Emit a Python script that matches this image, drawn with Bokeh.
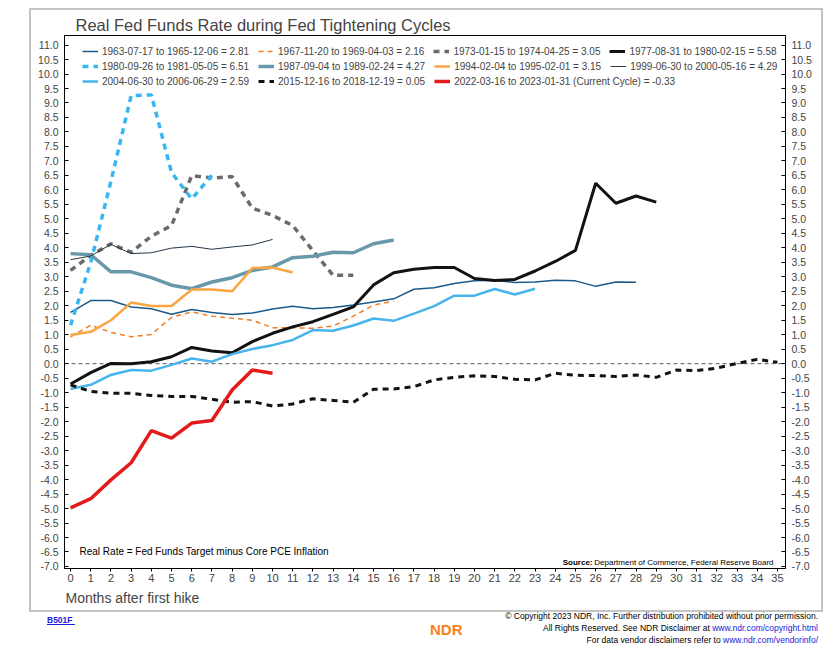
from bokeh.plotting import figure
from bokeh.layouts import column
from bokeh.models import (Range1d, LinearAxis, FixedTicker, NumeralTickFormatter, Span,
                          Label, Legend, LegendItem, Title, Div)
from bokeh.embed import file_html
from bokeh.resources import INLINE

# ---------------- data ----------------
months = list(range(36))
x_ticks = list(range(36))
y_ticks = [v / 2 for v in range(-14, 23)]

s1963 = [1.77, 2.18, 2.18, 1.96, 1.90, 1.71, 1.87, 1.77, 1.70, 1.75, 1.89, 1.98, 1.90, 1.94, 2.03,
         2.13, 2.24, 2.57, 2.62, 2.77, 2.86, 2.88, 2.80, 2.82, 2.88, 2.86, 2.67, 2.82, 2.81]
s1967 = [0.93, 1.33, 1.08, 0.93, 1.01, 1.60, 1.79, 1.64, 1.57, 1.50, 1.24, 1.24, 1.22, 1.30, 1.64,
         2.02, 2.16]
s1973 = [3.22, 3.74, 4.14, 3.85, 4.40, 4.77, 6.49, 6.41, 6.46, 5.37, 5.12, 4.77, 3.90, 3.05, 3.05]
s1977 = [-0.70, -0.31, 0.01, 0.00, 0.07, 0.24, 0.56, 0.44, 0.38, 0.76, 1.05, 1.27, 1.45, 1.70, 1.96,
         2.72, 3.14, 3.26, 3.32, 3.32, 2.94, 2.87, 2.91, 3.20, 3.53, 3.91, 6.23, 5.54, 5.79, 5.58]
s1980 = [1.33, 3.50, 6.30, 9.25, 9.28, 6.60, 5.69, 6.51]
s1987 = [3.80, 3.76, 3.17, 3.17, 2.97, 2.71, 2.59, 2.82, 2.97, 3.22, 3.34, 3.66, 3.71, 3.85, 3.83,
         4.14, 4.27]
s1994 = [0.99, 1.10, 1.50, 2.11, 1.99, 1.99, 2.56, 2.56, 2.50, 3.30, 3.32, 3.15]
s1999 = [3.59, 3.72, 4.12, 3.80, 3.83, 3.99, 4.05, 3.95, 4.03, 4.10, 4.29]
s2004 = [-0.87, -0.73, -0.39, -0.22, -0.24, -0.04, 0.18, 0.07, 0.33, 0.51, 0.64, 0.82, 1.16, 1.14,
         1.32, 1.56, 1.48, 1.73, 1.99, 2.35, 2.35, 2.58, 2.39, 2.59]
s2015 = [-0.73, -0.96, -1.02, -1.02, -1.10, -1.13, -1.13, -1.23, -1.33, -1.31, -1.46, -1.39, -1.21,
         -1.27, -1.33, -0.88, -0.87, -0.79, -0.56, -0.47, -0.42, -0.44, -0.54, -0.56, -0.33, -0.40,
         -0.41, -0.44, -0.39, -0.47, -0.22, -0.24, -0.15, 0.01, 0.15, 0.05]
s2022 = [-4.98, -4.66, -4.01, -3.42, -2.31, -2.57, -2.05, -1.96, -0.91, -0.22, -0.33]

labels = [
    "1963-07-17 to 1965-12-06 = 2.81",
    "1967-11-20 to 1969-04-03 = 2.16",
    "1973-01-15 to 1974-04-25 = 3.05",
    "1977-08-31 to 1980-02-15 = 5.58",
    "1980-09-26 to 1981-05-05 = 6.51",
    "1987-09-04 to 1989-02-24 = 4.27",
    "1994-02-04 to 1995-02-01 = 3.15",
    "1999-06-30 to 2000-05-16 = 4.29",
    "2004-06-30 to 2006-06-29 = 2.59",
    "2015-12-16 to 2018-12-19 = 0.05",
    "2022-03-16 to 2023-01-31 (Current Cycle) = -0.33",
]
series = [s1963, s1967, s1973, s1977, s1980, s1987, s1994, s1999, s2004, s2015, s2022]

# ---------------- styles ----------------
colors = ["#1a5a8a", "#f47d20", "#6b6b6b", "#121212", "#38b6f1", "#6a98ab",
          "#f9a543", "#263746", "#48b4ec", "#121212", "#e31b1b"]
widths = [1.5, 1.5, 3.5, 3.0, 3.5, 3.5, 2.5, 1.0, 2.5, 3.0, 3.5]
dashes = ["solid", "5 4", "6 5", "solid", "6 5", "solid", "solid", "solid", "solid", "6 5", "solid"]

FONT = "Liberation Sans"
BLUE = "#1a1adb"

p = figure(width=790, height=600, output_backend="svg", toolbar_location=None,
           x_range=Range1d(-0.3, 35.4), y_range=Range1d(-7.07, 11.33),
           min_border_left=33, min_border_right=36, min_border_top=25, min_border_bottom=42)
p.margin = (10, 0, 0, 31)
p.styles = {"outline": "2px solid #c4c4c4"}
p.xgrid.visible = False
p.ygrid.visible = False
p.outline_line_color = "black"
p.outline_line_width = 1

p.title.text = "Real Fed Funds Rate during Fed Tightening Cycles"
p.title.text_font = FONT
p.title.text_font_size = "16.5px"
p.title.text_font_style = "normal"
p.title.align = "left"
p.title.offset = 11
p.title.standoff = 4

# axes
xa = p.xaxis[0]
xa.ticker = FixedTicker(ticks=x_ticks)
xa.major_tick_in = 0
xa.major_tick_out = 3
xa.minor_tick_line_color = None
xa.major_label_text_font = FONT
xa.major_label_text_font_size = "11px"
xa.major_label_standoff = 2

p.add_layout(Title(text="Months after first hike", align="left", offset=1, standoff=7,
                   text_font=FONT, text_font_size="14px", text_font_style="normal"), "below")

ya = p.yaxis[0]
ya.ticker = FixedTicker(ticks=y_ticks)
ya.formatter = NumeralTickFormatter(format="0.0")
ya.major_tick_in = 4
ya.major_tick_out = 0
ya.minor_tick_line_color = None
ya.major_label_text_font = FONT
ya.major_label_text_font_size = "10.5px"
ya.major_label_standoff = 6

yr = LinearAxis(ticker=FixedTicker(ticks=y_ticks), formatter=NumeralTickFormatter(format="0.0"),
                major_tick_in=4, major_tick_out=0, minor_tick_line_color=None,
                major_label_text_font=FONT, major_label_text_font_size="10.5px",
                major_label_standoff=6)
p.add_layout(yr, "right")

p.add_layout(Span(location=0, dimension="width", line_color="#555555", line_width=1,
                  line_dash="4 3", level="underlay"))

items = []
for lab, vals, c, w, d in zip(labels, series, colors, widths, dashes):
    r = p.line(months[:len(vals)], vals, line_color=c, line_width=w, line_dash=d)
    items.append(LegendItem(label=lab, renderers=[r]))

# three legend rows (frame-relative screen coords: bottom-left of each row)
row_bottoms = [511, 496, 481]
for i, yb in enumerate(row_bottoms):
    lg = Legend(items=items[4 * i:4 * i + 4], orientation="horizontal", location=(18, yb),
                label_text_font=FONT, label_text_font_size="10px", glyph_width=16,
                glyph_height=12, label_height=12, label_standoff=4, spacing=9,
                padding=0, margin=0, border_line_color=None, background_fill_alpha=0)
    p.add_layout(lg)

FL, FB = 64, 568  # frame left / bottom in page pixels


def lab(text, sx, sy, size, **kw):
    kw.setdefault("text_font", FONT)
    kw.setdefault("text_color", "black")
    p.add_layout(Label(x=sx, y=sy, x_units="screen", y_units="screen", text=text,
                       text_font_size=size, **kw))


lab("Real Rate = Fed Funds Target minus Core PCE Inflation", 79 - FL, FB - 551, "10px",
    text_baseline="middle")
lab("Department of Commerce, Federal Reserve Board", 773 - FL, FB - 562, "8px",
    text_baseline="middle", text_align="right")
lab("Source:", 773 - FL - 181, FB - 562, "8px", text_baseline="middle", text_align="right",
    text_font_style="bold")

# ---------------- footer ----------------
footer_html = (
    '<div style="position:relative;width:820px;height:40px;font-family:\'Liberation Sans\';'
    'color:#000;">'
    '<span style="position:absolute;left:47px;top:5px;font-size:8.5px;line-height:10px;'
    'font-weight:bold;color:%s;text-decoration:underline;white-space:pre;">B501F </span>'
    '<span style="position:absolute;left:430px;top:11px;font-size:15px;line-height:17px;'
    'font-weight:bold;color:#f58220;">NDR</span>'
    '<div style="position:absolute;right:2px;top:0px;font-size:8.5px;line-height:12px;'
    'text-align:right;white-space:nowrap;">'
    '&copy; Copyright 2023 NDR, Inc. Further distribution prohibited without prior permission.<br>'
    'All Rights Reserved. See NDR Disclaimer at <span style="color:%s;">www.ndr.com/copyright.html</span><br>'
    'For data vendor disclaimers refer to <span style="color:%s;">www.ndr.com/vendorinfo/</span>'
    '</div></div>'
) % (BLUE, BLUE, BLUE)
footer = Div(text=footer_html, width=820, height=40, margin=(0, 0, 0, 0))

layout = column(p, footer, spacing=0)
open("out.html", "w").write(file_html(layout, INLINE))
